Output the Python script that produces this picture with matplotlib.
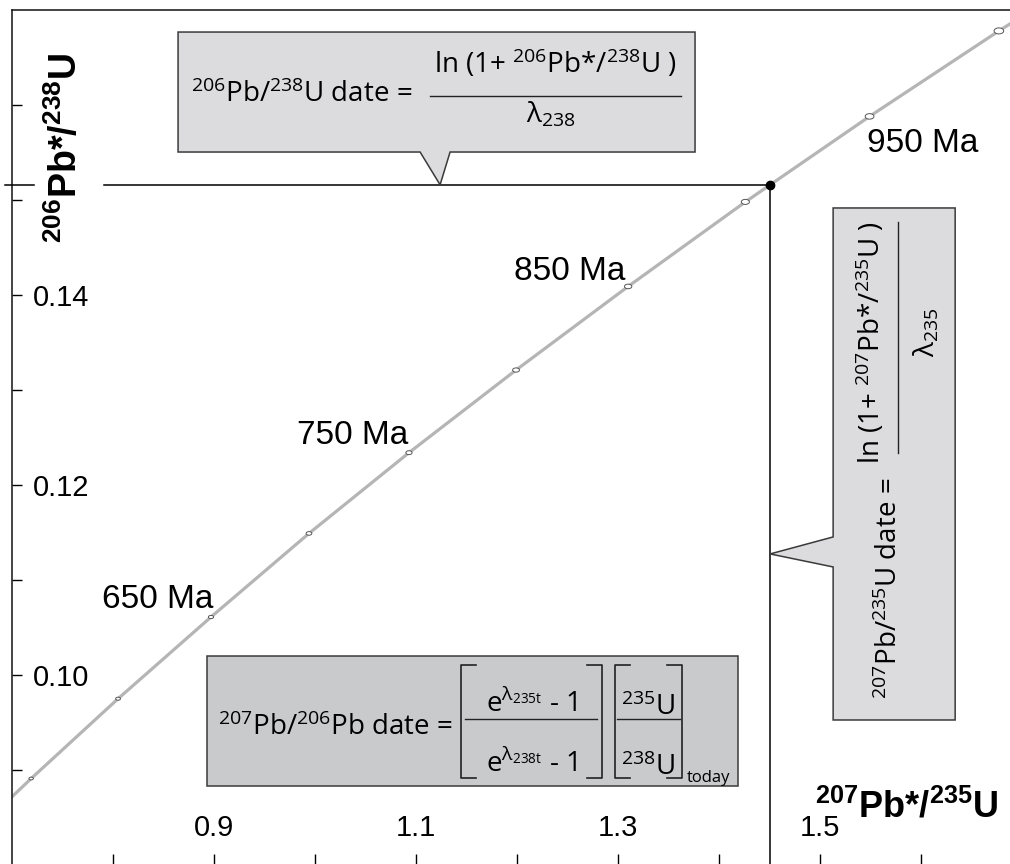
import numpy as np
import matplotlib.pyplot as plt
from matplotlib.patches import Polygon
from matplotlib.path import Path

plt.rcParams['font.family'] = ['Liberation Sans', 'DejaVu Sans']
plt.rcParams['mathtext.fontset'] = 'custom'
plt.rcParams['mathtext.rm'] = 'Open Sans'
plt.rcParams['mathtext.it'] = 'Open Sans:italic'
plt.rcParams['mathtext.bf'] = 'Liberation Sans:bold'

# concordia points, every 50 Ma
ages = [550, 600, 650, 700, 750, 800, 850, 900, 950, 1000]
pb207_u235 = [0.719, 0.805, 0.897, 0.994, 1.093, 1.199, 1.310, 1.426, 1.549, 1.677]
pb206_u238 = [0.0891, 0.0975, 0.1061, 0.1149, 0.1234, 0.1321, 0.1409, 0.1498, 0.1588, 0.1678]
# the curve runs on past the frame at both ends
curve_x = [0.636] + pb207_u235 + [1.813]
curve_y = [0.0807] + pb206_u238 + [0.1769]

labelled_ages = ['650 Ma', '750 Ma', '850 Ma', '950 Ma']

# concordant sample
sample_x = 1.4505
sample_y = 0.1516

xticks = [0.8, 0.9, 1.0, 1.1, 1.2, 1.3, 1.4, 1.5, 1.6]
xtick_labels = ['', '0.9', '', '1.1', '', '1.3', '', '1.5', '']
yticks = [0.09, 0.10, 0.11, 0.12, 0.13, 0.14, 0.15, 0.16]
ytick_labels = ['', '0.10', '', '0.12', '', '0.14', '', '']

fig = plt.figure(figsize=(10.1, 8.64), dpi=100)
ax = fig.add_axes([12 / 1010, 0, 998 / 1010, 854 / 864])
ax.set_xlim(0.70, 1.688)
ax.set_ylim(0.0801, 0.170)

for s in ['right', 'bottom']:
    ax.spines[s].set_visible(False)
for s in ['left', 'top']:
    ax.spines[s].set_linewidth(1.1)
    ax.spines[s].set_color('#111111')

ax.set_xticks(xticks, xtick_labels)
ax.set_yticks(yticks, ytick_labels)
ax.tick_params(axis='x', direction='in', length=7.5, width=1.0, pad=-36, labelsize=21)
ax.tick_params(axis='y', direction='in', length=7.5, width=1.0, pad=-15, labelsize=21)
for lab in ax.get_yticklabels():
    lab.set_horizontalalignment('left')

# concordia curve and age ellipses
ax.plot(curve_x, curve_y, color='#b5b5b5', lw=2.3, zorder=2)
ell = Path(np.column_stack([1.6 * np.cos(np.linspace(0, 2 * np.pi, 40)),
                            np.sin(np.linspace(0, 2 * np.pi, 40))]))
sizes = [10, 12, 14, 17, 20, 24, 28, 34, 40, 48]
ax.scatter(pb207_u235, pb206_u238, s=sizes, marker=ell, facecolor='white',
           edgecolor='#555555', linewidths=0.7, zorder=3)

# age labels
ax.text(0.899, 0.10705, labelled_ages[0], ha='right', va='baseline', fontsize=24)
ax.text(1.092, 0.12432, labelled_ages[1], ha='right', va='baseline', fontsize=24)
ax.text(1.307, 0.14158, labelled_ages[2], ha='right', va='baseline', fontsize=24)
ax.text(1.5465, 0.15505, labelled_ages[3], ha='left', va='baseline', fontsize=24)

# projection lines to the axes
ax.plot([0.6931, 0.7218], [sample_y, sample_y], color='black', lw=1.1, clip_on=False, zorder=4)
ax.plot([0.7911, sample_x], [sample_y, sample_y], color='black', lw=1.1, zorder=4)
ax.plot([sample_x, sample_x], [sample_y, 0.07], color='black', lw=1.1, zorder=4)
ax.plot(sample_x, sample_y, 'o', color='black', ms=6, zorder=5)

# 206Pb/238U box
top_box = Polygon([(0.8644, 0.16768), (1.3762, 0.16768), (1.3762, 0.15505),
                   (1.1337, 0.15505), (1.1238, sample_y), (1.1040, 0.15505),
                   (0.8644, 0.15505)], closed=True, facecolor='#dcdcde',
                  edgecolor='#3a3a3a', lw=1.1, zorder=6)
ax.add_patch(top_box)
box_font = dict(family=['Open Sans', 'DejaVu Sans'], fontsize=20, zorder=7)
ax.text(0.8772, 0.16032, r'$^{206}$Pb/$^{238}$U date =', ha='left', va='baseline', **box_font)
ax.text(1.2376, 0.16337, r'ln (1+ $^{206}$Pb*/$^{238}$U )', ha='center', va='baseline', **box_font)
ax.plot([1.1139, 1.3624], [0.16095, 0.16095], color='#222222', lw=1.0, zorder=7)
ax.text(1.2337, 0.15811, r'λ$_{238}$', ha='center', va='baseline', **box_font)

# 207Pb/206Pb box
ax.add_patch(Polygon([(0.8931, 0.1020), (1.4188, 0.1020), (1.4188, 0.08832),
                      (0.8931, 0.08832)], closed=True, facecolor='#c9cacc',
                     edgecolor='#3a3a3a', lw=1.1, zorder=6))
ax.text(0.904, 0.09368, r'$^{207}$Pb/$^{206}$Pb date =', ha='left', va='baseline', **box_font)
for x0, x1 in [(1.1446, 1.2842), (1.2970, 1.3634)]:
    serif = 0.0149
    ax.plot([x0 + serif, x0, x0, x0 + serif], [0.10105, 0.10105, 0.08916, 0.08916],
            color='#222222', lw=1.2, zorder=7)
    ax.plot([x1 - serif, x1, x1, x1 - serif], [0.10105, 0.10105, 0.08916, 0.08916],
            color='#222222', lw=1.2, zorder=7)
ax.plot([1.1485, 1.2792], [0.09537, 0.09537], color='#222222', lw=1.0, zorder=7)
ax.plot([1.299, 1.3614], [0.09537, 0.09537], color='#222222', lw=1.0, zorder=7)
ax.text(1.2139, 0.09611, r'e$^{\mathrm{\lambda}_{235\mathrm{t}}}$ - 1', ha='center', va='baseline', **box_font)
ax.text(1.2139, 0.08979, r'e$^{\mathrm{\lambda}_{238\mathrm{t}}}$ - 1', ha='center', va='baseline', **box_font)
ax.text(1.3297, 0.09579, r'$^{235}$U', ha='center', va='baseline', **box_font)
ax.text(1.3297, 0.08947, r'$^{238}$U', ha='center', va='baseline', **box_font)
ax.text(1.3683, 0.08874, 'today', ha='left', va='baseline',
        family=['Open Sans', 'DejaVu Sans'], fontsize=12, zorder=7)

# 207Pb/235U box
ax.add_patch(Polygon([(1.5129, 0.14916), (1.6337, 0.14916), (1.6337, 0.09526),
                      (1.5129, 0.09526), (1.5129, 0.11137), (sample_x, 0.11274),
                      (1.5129, 0.11453)], closed=True, facecolor='#dcdcde',
                     edgecolor='#3a3a3a', lw=1.1, zorder=6))
ax.text(1.5693, 0.10916, r'$^{207}$Pb/$^{235}$U date =', rotation=90,
        ha='center', va='center', **box_font)
ax.text(1.5505, 0.13495, r'ln (1+ $^{207}$Pb*/$^{235}$U )', rotation=90,
        ha='center', va='center', **box_font)
ax.plot([1.5772, 1.5772], [0.12337, 0.14768], color='#222222', lw=1.0, zorder=7)
ax.text(1.6059, 0.13611, r'λ$_{235}$', rotation=90, ha='center', va='center', **box_font)

# axis titles
fig.text(66 / 1010, 1 - 148 / 864, r'$^{\mathbf{206}}$Pb*/$^{\mathbf{238}}$U', rotation=90,
         ha='center', va='center', fontsize=27, fontweight='bold')
fig.text(815 / 1010, 1 - 817 / 864, r'$^{\mathbf{207}}$Pb*/$^{\mathbf{235}}$U',
         ha='left', va='baseline', fontsize=26, fontweight='bold')

fig.savefig('out.png', dpi=100)
